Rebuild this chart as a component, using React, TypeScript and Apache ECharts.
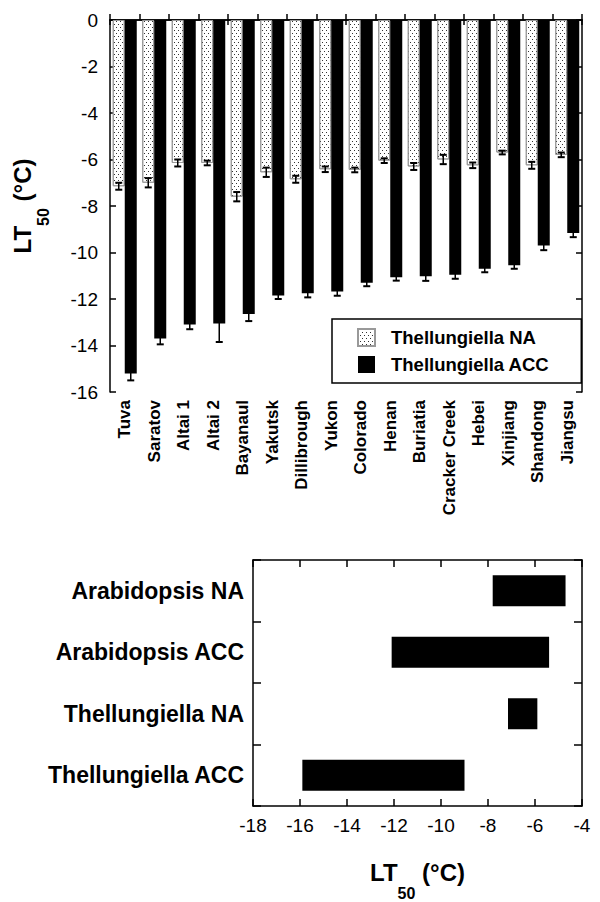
import React, { useEffect, useRef } from "react";
import * as echarts from "echarts";

const categories = ["Tuva", "Saratov", "Altai 1", "Altai 2", "Bayanaul", "Yakutsk", "Dillibrough", "Yukon", "Colorado", "Henan", "Buriatia", "Cracker Creek", "Hebei", "Xinjiang", "Shandong", "Jiangsu"];
const naMean = [-7.15, -7.0, -6.15, -6.15, -7.6, -6.55, -6.85, -6.42, -6.45, -6.05, -6.3, -6.0, -6.25, -5.7, -6.25, -5.8];
const naErr = [0.15, 0.2, 0.15, 0.1, 0.2, 0.2, 0.15, 0.12, 0.1, 0.1, 0.15, 0.2, 0.12, 0.08, 0.15, 0.1];
const accMean = [-15.2, -13.7, -13.1, -13.05, -12.65, -11.85, -11.75, -11.68, -11.3, -11.06, -11.02, -10.96, -10.7, -10.55, -9.7, -9.16];
const accErr = [0.3, 0.25, 0.2, 0.8, 0.3, 0.15, 0.18, 0.18, 0.15, 0.15, 0.2, 0.17, 0.15, 0.15, 0.2, 0.18];

const rangeCats = ["Arabidopsis NA", "Arabidopsis ACC", "Thellungiella NA", "Thellungiella ACC"];
const rangeLow = [-7.8, -12.1, -7.15, -15.9];
const rangeHigh = [-4.7, -5.4, -5.9, -9.0];

const FONT = "'Liberation Sans', Arial, Helvetica, sans-serif";
const BAR_W = 12;

function errorRender(offset: number) {
  return (params: any, api: any) => {
    const i = api.value(0);
    const v = api.value(1);
    const e = api.value(2);
    const lo = api.coord([i, v - e]);
    const hi = api.coord([i, v + e]);
    const x = lo[0] + offset;
    const st = { stroke: "#000", lineWidth: 1.5 };
    return {
      type: "group",
      children: [
        { type: "line", shape: { x1: x, y1: lo[1], x2: x, y2: hi[1] }, style: st },
        { type: "line", shape: { x1: x - 3.5, y1: lo[1], x2: x + 3.5, y2: lo[1] }, style: { stroke: "#000", lineWidth: 2 } },
        { type: "line", shape: { x1: x - 3.5, y1: hi[1], x2: x + 3.5, y2: hi[1] }, style: { stroke: "#000", lineWidth: 2 } },
      ],
    };
  };
}

const titleRich = {
  a: { fontSize: 24, fontWeight: "bold", fontFamily: FONT, color: "#000", lineHeight: 28, verticalAlign: "top" },
  s: { fontSize: 16, fontWeight: "bold", fontFamily: FONT, color: "#000", lineHeight: 18, padding: [25, 0, 0, 0], verticalAlign: "top" },
};

export default function App() {
  const ref = useRef<HTMLDivElement>(null);
  useEffect(() => {
    if (!ref.current) return;
    const chart = echarts.init(ref.current, undefined, { renderer: "svg" });
    const axisLine = { show: true, lineStyle: { color: "#000", width: 1.5 } };
    const tick = (len: number) => ({ show: true, inside: true, length: len, lineStyle: { color: "#000", width: 1.5 } });
    const decal = {
      symbol: "rect",
      symbolSize: 1,
      color: "#333",
      dashArrayX: [[1, 3], [0, 2, 1, 1]],
      dashArrayY: [1, 1.5],
      rotation: 0,
    };
    const option: any = {
      animation: false,
      backgroundColor: "#fff",
      grid: [
        { left: 110, top: 20, width: 472, height: 372 },
        { left: 253, top: 560, width: 329, height: 248 },
      ],
      legend: {
        data: ["Thellungiella NA", "Thellungiella ACC"],
        orient: "vertical",
        left: 332,
        top: 319,
        padding: [9, 32, 9, 25],
        itemWidth: 17,
        itemHeight: 17,
        itemGap: 8,
        borderColor: "#000",
        borderWidth: 1.5,
        backgroundColor: "#fff",
        icon: "rect",
        textStyle: { fontSize: 18.5, fontWeight: "bold", fontFamily: FONT, color: "#000", padding: [0, 0, 0, 11] },
      },
      xAxis: [
        {
          type: "category", gridIndex: 0, data: categories, position: "bottom",
          axisLine, axisTick: tick(6),
          axisLabel: { rotate: 90, fontSize: 17, fontWeight: "bold", fontFamily: FONT, color: "#000", margin: 8, interval: 0 },
        },
        {
          type: "category", gridIndex: 0, data: categories, position: "top",
          axisLine, axisTick: tick(5), axisLabel: { show: false },
        },
        {
          type: "value", gridIndex: 1, min: -18, max: -4, interval: 2, position: "bottom",
          axisLine, axisTick: tick(7), splitLine: { show: false },
          axisLabel: { fontSize: 19, fontFamily: FONT, color: "#000", margin: 10 },
          name: "{a|LT}{s|50}{a| (°C)}",
          nameLocation: "middle",
          nameGap: 54,
          nameTextStyle: { rich: titleRich },
        },
        {
          type: "value", gridIndex: 1, min: -18, max: -4, interval: 2, position: "top",
          axisLine, axisTick: tick(7), splitLine: { show: false }, axisLabel: { show: false },
        },
      ],
      yAxis: [
        {
          type: "value", gridIndex: 0, min: -16, max: 0, interval: 2, position: "left",
          axisLine, axisTick: tick(6), splitLine: { show: false },
          axisLabel: { fontSize: 19, fontFamily: FONT, color: "#000", margin: 12 },
          name: "{a|LT}{s|50}{a| (°C)}",
          nameLocation: "middle",
          nameGap: 72,
          nameTextStyle: { rich: titleRich },
        },
        {
          type: "value", gridIndex: 0, min: -16, max: 0, interval: 2, position: "right",
          axisLine, axisTick: tick(6), splitLine: { show: false }, axisLabel: { show: false },
        },
        {
          type: "category", gridIndex: 1, data: rangeCats, inverse: true, position: "left",
          axisLine, axisTick: tick(8),
          axisLabel: { fontSize: 23, fontWeight: "bold", fontFamily: FONT, color: "#000", margin: 9 },
        },
        {
          type: "category", gridIndex: 1, data: rangeCats, inverse: true, position: "right",
          axisLine, axisTick: tick(8), axisLabel: { show: false },
        },
      ],
      series: [
        {
          name: "Thellungiella NA", type: "bar", xAxisIndex: 0, yAxisIndex: 0,
          data: naMean, barWidth: BAR_W, barGap: "0%",
          itemStyle: { color: "#fff", borderColor: "#999", borderWidth: 1, decal },
        },
        {
          name: "Thellungiella ACC", type: "bar", xAxisIndex: 0, yAxisIndex: 0,
          data: accMean, barWidth: BAR_W, barGap: "0%",
          itemStyle: { color: "#000" },
        },
        {
          type: "custom", xAxisIndex: 0, yAxisIndex: 0, z: 10,
          renderItem: errorRender(-BAR_W / 2),
          data: naMean.map((v, i) => [i, v, naErr[i]]),
        },
        {
          type: "custom", xAxisIndex: 0, yAxisIndex: 0, z: 10,
          renderItem: errorRender(BAR_W / 2),
          data: accMean.map((v, i) => [i, v, accErr[i]]),
        },
        {
          type: "bar", xAxisIndex: 2, yAxisIndex: 2, stack: "range",
          data: rangeHigh, barWidth: 31, silent: true,
          itemStyle: { color: "rgba(0,0,0,0)" },
        },
        {
          type: "bar", xAxisIndex: 2, yAxisIndex: 2, stack: "range",
          data: rangeLow.map((v, i) => +(v - rangeHigh[i]).toFixed(2)), barWidth: 31,
          itemStyle: { color: "#000" },
        },
      ],
    };
    chart.setOption(option);
    return () => chart.dispose();
  }, []);
  return <div ref={ref} style={{ position: "absolute", left: 0, top: 0, width: 600, height: 902 }} />;
}
